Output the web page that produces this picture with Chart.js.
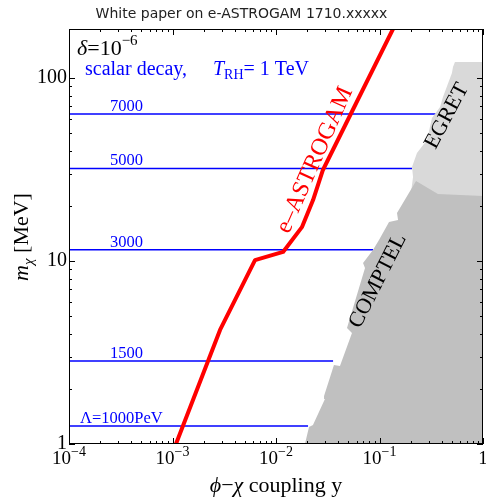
<!DOCTYPE html>
<html>
<head>
<meta charset="utf-8">
<script src="https://cdn.jsdelivr.net/npm/chart.js@4.4.1/dist/chart.umd.min.js"></script>
<style>
  html, body { margin: 0; padding: 0; background: #fff; }
  #wrap { width: 486px; height: 498px; }
</style>
</head>
<body>
<div id="wrap"><canvas id="chart" width="486" height="498"></canvas></div>
<script>
// ===================================
// DATA
// ===================================
const xMin = 1e-4, xMax = 1;
const yMin = 1, yMax = 185;

// e-ASTROGAM sensitivity curve
const astroX = [1.08e-3, 2.88e-3, 6.27e-3, 1.17e-2, 1.78e-2, 2.28e-2, 2.84e-2, 0.135];
const astroY = [1.0, 4.20, 10.1, 11.2, 15.3, 21.5, 31.4, 185];

// Lambda lines (horizontal), end where the excluded region starts
const lambdaNames = ['Λ=1000PeV', '1500', '3000', '5000', '7000'];
const lambdaY = [1.254, 2.84, 11.5, 32.0, 63.6];
const lambdaEndX = [0.0204, 0.0356, 0.0865, 0.206, 0.360];

// COMPTEL excluded region (edge)
const comptelX = [0.01905, 0.02084, 0.02276, 0.02970, 0.02911, 0.03630, 0.04150, 0.05420, 0.04853,
                  0.07244, 0.06934, 0.08650, 0.09886, 0.1236, 0.1511, 0.1476, 0.2254, 0.3673, 1];
const comptelY = [1, 1.238, 1.270, 1.762, 1.829, 2.702, 2.668, 4.044, 4.304,
                  9.157, 9.752, 11.48, 13.03, 16.34, 16.75, 18.29, 27.36, 23.23, 22.65];

// EGRET excluded region (edge)
const egretX = [0.1972, 0.2109, 0.2061, 0.2301, 0.2877, 0.3214, 0.3846, 0.4113, 0.5012, 0.5129, 0.5358, 1];
const egretY = [21.55, 28.77, 32.6, 38.9, 45.82, 60.4, 69.45, 78.8, 106.5, 114.8, 122.3, 122.3];

// axis ticks
const xTickVals = [1e-4, 1e-3, 1e-2, 1e-1, 1];
const xTickLabels = [['10', '−4'], ['10', '−3'], ['10', '−2'], ['10', '−1'], ['1', '']];
const yTickVals = [1, 10, 100];
const yTickLabels = ['1', '10', '100'];

const BLUE = '#0000ff';
const RED = '#ff0000';
const SERIF = '"Liberation Serif", "DejaVu Serif", serif';

function pts(xs, ys) {
    return xs.map((v, i) => ({ x: v, y: ys[i] }));
}

// ===================================
// DATASETS
// ===================================
const datasets = [];

datasets.push({
    data: pts(astroX, astroY),
    showLine: true, borderColor: RED, borderWidth: 4, pointRadius: 0,
    borderJoinStyle: 'round', fill: false, order: 0
});
datasets.push({
    data: pts(egretX, egretY),
    showLine: true, borderWidth: 0, borderColor: 'rgba(0,0,0,0)', pointRadius: 0,
    backgroundColor: '#d9d9d9', fill: 'start', order: 2
});
datasets.push({
    data: pts(comptelX, comptelY),
    showLine: true, borderWidth: 0, borderColor: 'rgba(0,0,0,0)', pointRadius: 0,
    backgroundColor: '#c0c0c0', fill: 'start', order: 1
});
lambdaY.forEach((v, i) => {
    datasets.push({
        data: [{ x: xMin, y: v }, { x: lambdaEndX[i], y: v }],
        showLine: true, borderColor: BLUE, borderWidth: 1.5, pointRadius: 0,
        fill: false, order: 3
    });
});

// ===================================
// TEXT HELPERS
// ===================================
// draw a run of pieces [text, font, dy] starting at x
function runWidth(ctx, parts) {
    let w = 0;
    parts.forEach(p => { ctx.font = p[1]; w += ctx.measureText(p[0]).width; });
    return w;
}
function drawRun(ctx, parts, x, y) {
    parts.forEach(p => {
        ctx.font = p[1];
        ctx.fillText(p[0], x, y + (p[2] || 0));
        x += ctx.measureText(p[0]).width;
    });
}
function rotText(ctx, txt, cx, cy, deg, font, color) {
    ctx.save();
    ctx.translate(cx, cy);
    ctx.rotate(deg * Math.PI / 180);
    ctx.font = font;
    ctx.fillStyle = color;
    ctx.textAlign = 'center';
    ctx.textBaseline = 'middle';
    ctx.fillText(txt, 0, 0);
    ctx.restore();
}

// ===================================
// AXES, TICKS AND LABELS
// ===================================
const frame = {
    id: 'frame',
    afterDatasetsDraw(chart) {
        const { ctx, chartArea: a, scales: { x, y } } = chart;
        ctx.save();
        ctx.strokeStyle = '#000';
        ctx.lineWidth = 1;
        ctx.strokeRect(a.left + 0.5, a.top + 0.5, a.right - a.left - 1, a.bottom - a.top - 1);

        // inward ticks, all four sides
        ctx.beginPath();
        for (let d = -4; d <= 0; d++) {
            for (let m = 1; m <= 9; m++) {
                const v = m * Math.pow(10, d);
                if (v > xMax * 1.0001) break;
                const px = Math.round(x.getPixelForValue(v)) + 0.5;
                const len = m === 1 ? 6 : 3;
                ctx.moveTo(px, a.bottom); ctx.lineTo(px, a.bottom - len);
                ctx.moveTo(px, a.top); ctx.lineTo(px, a.top + len);
            }
        }
        for (let d = 0; d <= 2; d++) {
            for (let m = 1; m <= 9; m++) {
                const v = m * Math.pow(10, d);
                if (v > yMax) break;
                const py = Math.round(y.getPixelForValue(v)) + 0.5;
                const len = m === 1 ? 6 : 3;
                ctx.moveTo(a.left, py); ctx.lineTo(a.left + len, py);
                ctx.moveTo(a.right, py); ctx.lineTo(a.right - len, py);
            }
        }
        ctx.stroke();

        // tick labels
        ctx.fillStyle = '#000';
        ctx.textBaseline = 'alphabetic';
        ctx.textAlign = 'left';
        xTickVals.forEach((v, i) => {
            const parts = [[xTickLabels[i][0], '19px ' + SERIF, 0], [xTickLabels[i][1], '14px ' + SERIF, -8]];
            const w = runWidth(ctx, parts);
            drawRun(ctx, parts, x.getPixelForValue(v) - w / 2, a.bottom + 20);
        });
        ctx.textAlign = 'right';
        ctx.textBaseline = 'middle';
        ctx.font = '20px ' + SERIF;
        yTickVals.forEach((v, i) => {
            ctx.fillText(yTickLabels[i], a.left - 2, y.getPixelForValue(v));
        });

        // axis titles
        ctx.textAlign = 'left';
        ctx.textBaseline = 'alphabetic';
        const xt = [['ϕ', 'italic 22px ' + SERIF, 0], ['−', '22px ' + SERIF, 0],
                    ['χ', 'italic 22px ' + SERIF, 0], [' coupling y', '22px ' + SERIF, 0]];
        drawRun(ctx, xt, (a.left + a.right) / 2 - runWidth(ctx, xt) / 2, 492);

        const yt = [['m', 'italic 22px ' + SERIF, 0], ['χ', 'italic 15px ' + SERIF, 5],
                    [' [MeV]', '22px ' + SERIF, 0]];
        ctx.save();
        ctx.translate(28, 237);
        ctx.rotate(-Math.PI / 2);
        drawRun(ctx, yt, -runWidth(ctx, yt) / 2, 0);
        ctx.restore();

        // annotations inside the plot
        drawRun(ctx, [['δ', 'italic 22px ' + SERIF, 0], ['=10', '22px ' + SERIF, 0],
                      ['−6', '15px ' + SERIF, -10]], a.left + 8, a.top + 26);
        ctx.fillStyle = BLUE;
        drawRun(ctx, [['scalar decay,', '20px ' + SERIF, 0]], a.left + 16, a.top + 46);
        drawRun(ctx, [['T', 'italic 20px ' + SERIF, 0], ['RH', '14px ' + SERIF, 4],
                      ['= 1 TeV', '20px ' + SERIF, 0]], a.left + 144, a.top + 46);

        ctx.font = '16.5px ' + SERIF;
        lambdaNames.forEach((t, i) => {
            const py = y.getPixelForValue(lambdaY[i]);
            ctx.fillText(t, a.left + (i === 0 ? 11 : 41), py - 3);
        });

        rotText(ctx, 'e–ASTROGAM', 315, 160, -66, '24px ' + SERIF, RED);
        rotText(ctx, 'EGRET', 447, 116, -62, '22px ' + SERIF, '#000');
        rotText(ctx, 'COMPTEL', 378, 281, -63, '22px ' + SERIF, '#000');
        ctx.restore();
    }
};

// ===================================
// CHART
// ===================================
new Chart(document.getElementById('chart'), {
    type: 'scatter',
    data: { datasets: datasets },
    options: {
        responsive: false,
        animation: false,
        layout: { padding: { left: 0, right: 3, top: 0, bottom: 0 } },
        plugins: {
            legend: { display: false },
            tooltip: { enabled: false },
            title: {
                display: true,
                text: 'White paper on e-ASTROGAM 1710.xxxxx',
                color: '#222',
                font: { family: '"DejaVu Sans", sans-serif', size: 14, weight: 'normal' },
                padding: { top: 6, bottom: 6.2 }
            }
        },
        scales: {
            x: {
                type: 'logarithmic', min: xMin, max: xMax,
                grid: { display: false }, border: { display: false },
                ticks: { display: false },
                afterFit: s => { s.height = 54; }
            },
            y: {
                type: 'logarithmic', min: yMin, max: yMax,
                grid: { display: false }, border: { display: false },
                ticks: { display: false },
                afterFit: s => { s.width = 69; }
            }
        }
    },
    plugins: [frame]
});
</script>
</body>
</html>
